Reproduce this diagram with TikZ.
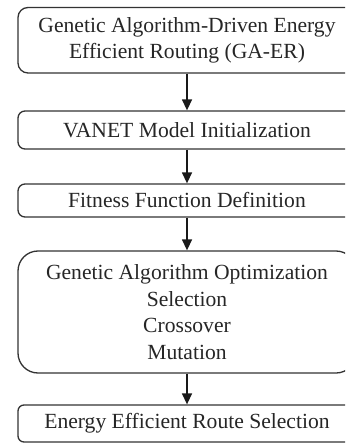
\documentclass[tikz,border=0pt]{standalone}
\usepackage{fontspec}
\setmainfont{Liberation Serif}
\usetikzlibrary{arrows.meta}
\begin{document}
\begin{tikzpicture}[x=1pt,y=-1pt,
  box/.style={draw=black!80, line width=1.3pt, minimum width=338pt, align=center,
    inner sep=0pt, text=black!85, font=\fontsize{21.6}{26.7}\selectfont},
  arr/.style={line width=1.4pt, draw=black!90, -{Triangle[width=10pt,length=11pt]}}]
\clip (0,0) rectangle (345,443);
\node[box, rounded corners=10pt, minimum height=65.5pt] (b1) at (187,40.25)
  {Genetic Algorithm-Driven Energy\\Efficient Routing (GA-ER)};
\node[box, rounded corners=7pt, minimum height=38pt] (b2) at (187,130)
  {VANET Model Initialization};
\node[box, rounded corners=7pt, minimum height=33pt] (b3) at (187,200.5)
  {Fitness Function Definition};
\node[box, rounded corners=20pt, minimum height=122pt] (b4) at (187,312)
  {Genetic Algorithm Optimization\\Selection\\Crossover\\Mutation};
\node[box, rounded corners=6pt, minimum height=37pt] (b5) at (187,423.5)
  {Energy Efficient Route Selection};
\draw[arr] (b1) -- (b2);
\draw[arr] (b2) -- (b3);
\draw[arr] (b3) -- (b4);
\draw[arr] (b4) -- (b5);
\end{tikzpicture}
\end{document}
